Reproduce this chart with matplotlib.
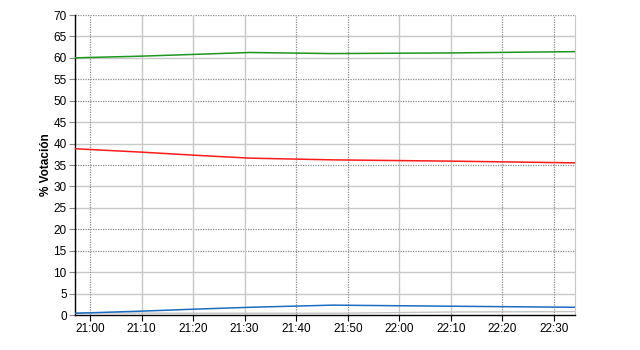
import matplotlib
matplotlib.use("Agg")
import matplotlib.pyplot as plt
import matplotlib.dates as mdates
import pandas as pd

# ---- data ----
times = ["20:57", "21:10", "21:20", "21:31", "21:47", "22:10", "22:34"]
green = [60.0, 60.4, 60.8, 61.25, 61.0, 61.15, 61.45]
red = [38.8, 38.0, 37.3, 36.6, 36.2, 35.9, 35.5]
blue = [0.4, 0.9, 1.35, 1.8, 2.3, 2.05, 1.8]
gray = [0.5, 0.45, 0.4, 0.4, 0.4, 0.7, 0.8]

xticks = ["21:00", "21:10", "21:20", "21:30", "21:40", "21:50",
          "22:00", "22:10", "22:20", "22:30"]
yticks = list(range(0, 75, 5))
ylabel = "% Votación"

# grid styles as seen in the reference (d = dotted dark, s = solid light)
ygrid_style = {70: "d", 65: "s", 60: "s", 55: "d", 50: "d", 45: "s", 40: "s",
               35: "d", 30: "s", 25: "s", 20: "d", 15: "d", 10: "s", 5: "s"}
xgrid_style = ["d", "s", "s", "s", "d", "d", "s", "s", "d", "d"]

day = "2000-01-01 "
t = pd.to_datetime([day + s for s in times])
xt = pd.to_datetime([day + s for s in xticks])

plt.rcParams["font.family"] = ["Liberation Sans", "DejaVu Sans"]
fig = plt.figure(figsize=(6.4, 3.5), dpi=100)
ax = fig.add_axes([75 / 640, 1 - 315 / 350, 500 / 640, 300 / 350])

for yv, st in ygrid_style.items():
    if st == "d":
        ax.axhline(yv, color="#8c8c8c", lw=0.9, ls=(0, (1, 1)), zorder=1)
    else:
        ax.axhline(yv, color="#c8c8c8", lw=1.0, zorder=1)
for xv, st in zip(xt, xgrid_style):
    if st == "d":
        ax.axvline(xv, color="#8c8c8c", lw=0.9, ls=(0, (1, 1)), zorder=1)
    else:
        ax.axvline(xv, color="#c8c8c8", lw=1.0, zorder=1)

ax.plot(t, gray, color="#c4c4c4", lw=1.0, zorder=2)
ax.plot(t, blue, color="#1b6cc0", lw=1.1, zorder=3)
ax.plot(t, red, color="#ff1a1a", lw=1.1, zorder=3)
ax.plot(t, green, color="#1e961e", lw=1.1, zorder=3)

ax.set_xlim(pd.Timestamp(day + "20:57:05"), pd.Timestamp(day + "22:34:05"))
ax.set_ylim(0, 70)
ax.set_yticks(yticks)
ax.set_xticks(xt)
ax.set_xticklabels(xticks)
ax.xaxis.set_major_formatter(mdates.DateFormatter("%H:%M"))

ax.spines["top"].set_visible(False)
ax.spines["right"].set_color("#c8c8c8")
ax.spines["left"].set_color("black")
ax.spines["bottom"].set_color("black")
ax.spines["left"].set_linewidth(1.0)
ax.spines["bottom"].set_linewidth(1.0)
ax.tick_params(axis="y", direction="out", length=4, width=0.8, color="#888888",
               labelsize=8.5, pad=2)
ax.tick_params(axis="x", direction="out", length=4, width=0.8, color="black",
               labelsize=8.5, pad=2)
ax.set_ylabel(ylabel, fontsize=8.5, fontweight="bold", labelpad=1)

fig.savefig("out.png", dpi=100)
